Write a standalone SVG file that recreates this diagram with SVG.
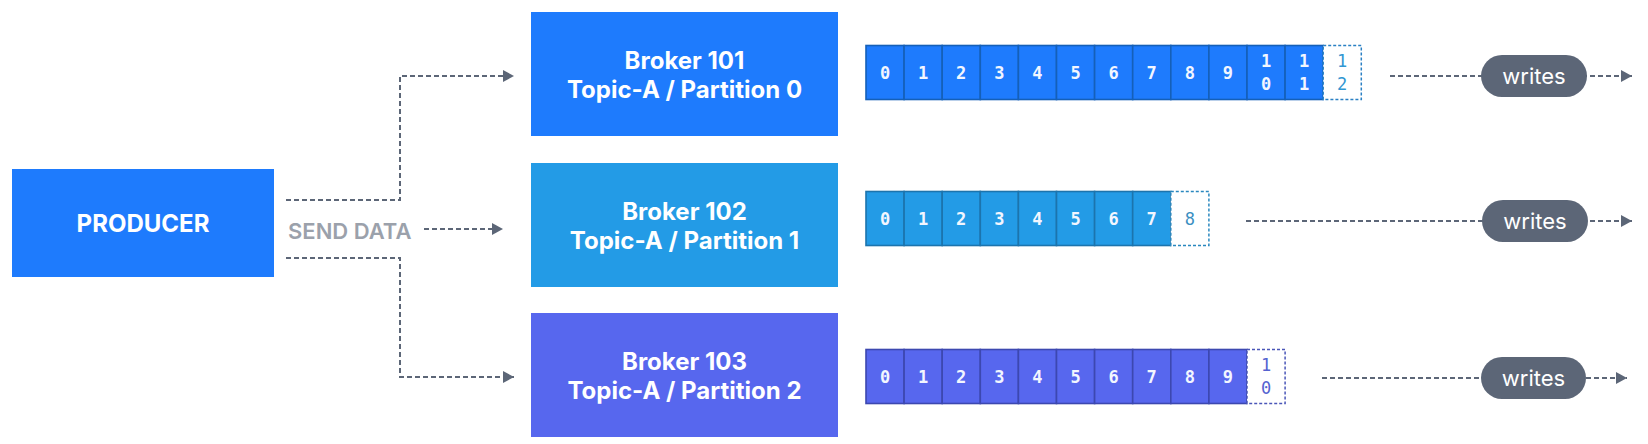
<svg xmlns="http://www.w3.org/2000/svg" width="1648" height="444" viewBox="0 0 1648 444">
<style>
.lbl{font-family:Inter,"Liberation Sans",sans-serif;font-weight:700;fill:#fff;text-anchor:middle}
.send{font-family:Inter,"Liberation Sans",sans-serif;font-weight:600;font-size:22px;fill:#9ba1ab}
.conn{fill:none;stroke:#5c6677;stroke-width:2;stroke-dasharray:5 3}
.pill{fill:#5c6677}
.wt{font-family:Inter,"Liberation Sans",sans-serif;font-size:22px;fill:#fff;text-anchor:middle}
.num{font-family:"DejaVu Sans Mono","Liberation Mono",monospace;font-size:17px;text-anchor:middle}
.r1 rect.c{fill:#1e7bfd;stroke:#1560b8;stroke-width:1.6}
.r2 rect.c{fill:#239be6;stroke:#1c74ad;stroke-width:1.6}
.r3 rect.c{fill:#5767ee;stroke:#3c48b0;stroke-width:1.6}
rect.d{fill:#fff;stroke-width:1.5;stroke-dasharray:3 2}
.r1 rect.d{stroke:#2a80c4}
.r2 rect.d{stroke:#2a88bf}
.r3 rect.d{stroke:#4a56b8}
.w{fill:#f2f6ff;font-weight:700}
.r1 .n{fill:#3197d2}
.r2 .n{fill:#3b8fc2}
.r3 .n{fill:#5563d0}
</style>
<defs>
<marker id="ah" markerUnits="userSpaceOnUse" markerWidth="12" markerHeight="12" refX="11" refY="6" orient="auto">
<path d="M0,0 L11,6 L0,12 z" fill="#5c6677"/>
</marker>
</defs>

<g id="producer">
<rect x="12" y="169" width="262" height="108" fill="#1e7bfd"/>
<text class="lbl" x="143" y="232" font-size="24">PRODUCER</text>
</g>

<g id="broker101">
<rect x="531" y="12" width="307" height="124" fill="#1e7bfd"/>
<text class="lbl" x="684.5" y="69" font-size="24">Broker 101</text>
<text class="lbl" x="684.5" y="98" font-size="24">Topic-A / Partition 0</text>
</g>
<g id="broker102">
<rect x="531" y="163" width="307" height="124" fill="#239be6"/>
<text class="lbl" x="684.5" y="220" font-size="24">Broker 102</text>
<text class="lbl" x="684.5" y="249" font-size="24">Topic-A / Partition 1</text>
</g>
<g id="broker103">
<rect x="531" y="313" width="307" height="124" fill="#5767ee"/>
<text class="lbl" x="684.5" y="370" font-size="24">Broker 103</text>
<text class="lbl" x="684.5" y="399" font-size="24">Topic-A / Partition 2</text>
</g>

<g id="log0" class="r1">
<rect class="c" x="866" y="45.5" width="38.1" height="54"/>
<rect class="c" x="904.1" y="45.5" width="38.1" height="54"/>
<rect class="c" x="942.2" y="45.5" width="38.1" height="54"/>
<rect class="c" x="980.3" y="45.5" width="38.1" height="54"/>
<rect class="c" x="1018.4" y="45.5" width="38.1" height="54"/>
<rect class="c" x="1056.5" y="45.5" width="38.1" height="54"/>
<rect class="c" x="1094.6" y="45.5" width="38.1" height="54"/>
<rect class="c" x="1132.7" y="45.5" width="38.1" height="54"/>
<rect class="c" x="1170.8" y="45.5" width="38.1" height="54"/>
<rect class="c" x="1208.9" y="45.5" width="38.1" height="54"/>
<rect class="c" x="1247" y="45.5" width="38.1" height="54"/>
<rect class="c" x="1285.1" y="45.5" width="38.1" height="54"/>
<rect class="d" x="1323.2" y="45.5" width="38.1" height="54"/>
<text class="num w" x="885" y="78.5">0</text>
<text class="num w" x="923.1" y="78.5">1</text>
<text class="num w" x="961.2" y="78.5">2</text>
<text class="num w" x="999.3" y="78.5">3</text>
<text class="num w" x="1037.4" y="78.5">4</text>
<text class="num w" x="1075.5" y="78.5">5</text>
<text class="num w" x="1113.6" y="78.5">6</text>
<text class="num w" x="1151.7" y="78.5">7</text>
<text class="num w" x="1189.8" y="78.5">8</text>
<text class="num w" x="1227.9" y="78.5">9</text>
<text class="num w" x="1266" y="67">1</text>
<text class="num w" x="1266" y="90">0</text>
<text class="num w" x="1304.1" y="67">1</text>
<text class="num w" x="1304.1" y="90">1</text>
<text class="num n" x="1342.2" y="67">1</text>
<text class="num n" x="1342.2" y="90">2</text>
</g>

<g id="log1" class="r2">
<rect class="c" x="866" y="191.5" width="38.1" height="54"/>
<rect class="c" x="904.1" y="191.5" width="38.1" height="54"/>
<rect class="c" x="942.2" y="191.5" width="38.1" height="54"/>
<rect class="c" x="980.3" y="191.5" width="38.1" height="54"/>
<rect class="c" x="1018.4" y="191.5" width="38.1" height="54"/>
<rect class="c" x="1056.5" y="191.5" width="38.1" height="54"/>
<rect class="c" x="1094.6" y="191.5" width="38.1" height="54"/>
<rect class="c" x="1132.7" y="191.5" width="38.1" height="54"/>
<rect class="d" x="1170.8" y="191.5" width="38.1" height="54"/>
<text class="num w" x="885" y="224.5">0</text>
<text class="num w" x="923.1" y="224.5">1</text>
<text class="num w" x="961.2" y="224.5">2</text>
<text class="num w" x="999.3" y="224.5">3</text>
<text class="num w" x="1037.4" y="224.5">4</text>
<text class="num w" x="1075.5" y="224.5">5</text>
<text class="num w" x="1113.6" y="224.5">6</text>
<text class="num w" x="1151.7" y="224.5">7</text>
<text class="num n" x="1189.8" y="224.5">8</text>
</g>

<g id="log2" class="r3">
<rect class="c" x="866" y="349.5" width="38.1" height="54"/>
<rect class="c" x="904.1" y="349.5" width="38.1" height="54"/>
<rect class="c" x="942.2" y="349.5" width="38.1" height="54"/>
<rect class="c" x="980.3" y="349.5" width="38.1" height="54"/>
<rect class="c" x="1018.4" y="349.5" width="38.1" height="54"/>
<rect class="c" x="1056.5" y="349.5" width="38.1" height="54"/>
<rect class="c" x="1094.6" y="349.5" width="38.1" height="54"/>
<rect class="c" x="1132.7" y="349.5" width="38.1" height="54"/>
<rect class="c" x="1170.8" y="349.5" width="38.1" height="54"/>
<rect class="c" x="1208.9" y="349.5" width="38.1" height="54"/>
<rect class="d" x="1247" y="349.5" width="38.1" height="54"/>
<text class="num w" x="885" y="382.5">0</text>
<text class="num w" x="923.1" y="382.5">1</text>
<text class="num w" x="961.2" y="382.5">2</text>
<text class="num w" x="999.3" y="382.5">3</text>
<text class="num w" x="1037.4" y="382.5">4</text>
<text class="num w" x="1075.5" y="382.5">5</text>
<text class="num w" x="1113.6" y="382.5">6</text>
<text class="num w" x="1151.7" y="382.5">7</text>
<text class="num w" x="1189.8" y="382.5">8</text>
<text class="num w" x="1227.9" y="382.5">9</text>
<text class="num n" x="1266" y="371">1</text>
<text class="num n" x="1266" y="394">0</text>
</g>

<g id="connectors">
<path class="conn" d="M286,200 H400 V76 H514" marker-end="url(#ah)"/>
<path class="conn" d="M424,229 H503" marker-end="url(#ah)"/>
<path class="conn" d="M286,258 H400 V377 H514" marker-end="url(#ah)"/>
<text class="send" x="288" y="239">SEND DATA</text>
<path class="conn" d="M1390,76 H1632" marker-end="url(#ah)"/>
<path class="conn" d="M1246,221 H1632" marker-end="url(#ah)"/>
<path class="conn" d="M1322,378 H1627" marker-end="url(#ah)"/>
</g>

<g id="writes0">
<rect class="pill" x="1481" y="55" width="106" height="42" rx="21"/>
<text class="wt" x="1534" y="83.5">writes</text>
</g>
<g id="writes1">
<rect class="pill" x="1482" y="200" width="106" height="42" rx="21"/>
<text class="wt" x="1535" y="228.5">writes</text>
</g>
<g id="writes2">
<rect class="pill" x="1481" y="357" width="105" height="42" rx="21"/>
<text class="wt" x="1533.5" y="385.5">writes</text>
</g>
</svg>
